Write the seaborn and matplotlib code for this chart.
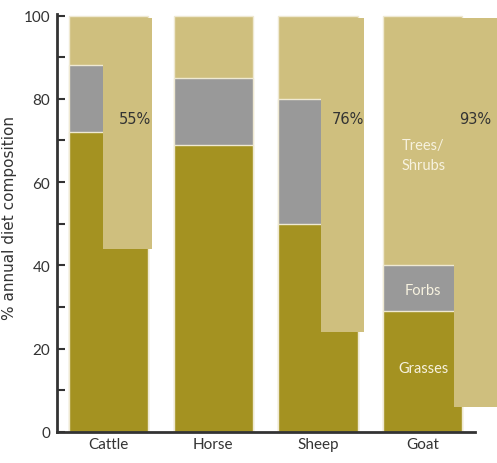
import numpy as np
import pandas as pd
import matplotlib
matplotlib.use("Agg")
import matplotlib.pyplot as plt
import seaborn as sns
from matplotlib.ticker import MultipleLocator

# ---- data ----
animals = ["Cattle", "Horse", "Sheep", "Goat"]
grasses = [72, 69, 50, 29]
forbs = [16, 16, 30, 11]
trees_shrubs = [12, 15, 20, 60]
overlay_bottom = [44, np.nan, 24, 6]
overlay_top = [99.3, np.nan, 99.3, 99.3]
overlay_labels = ["55%", "", "76%", "93%"]
segment_labels = ["Grasses", "Forbs", "Trees/\nShrubs"]

# ---- style ----
C_GRASS = "#A49221"
C_FORB = "#999999"
C_TREE = "#CFBF7E"
TXT = "#333333"

sns.set_style("ticks")
plt.rcParams["font.family"] = ["Lato", "DejaVu Sans"]

fig = plt.figure(figsize=(4.97, 4.64), dpi=100)
ax = fig.add_axes([0.115, 0.067, 0.841, 0.901])

df = pd.DataFrame({"animal": animals, "grasses": grasses,
                   "forbs": forbs, "trees": trees_shrubs})
df["c_forbs"] = df["grasses"] + df["forbs"]
df["c_trees"] = df["c_forbs"] + df["trees"]

BW = 0.755
edge = dict(edgecolor="#efe9d2", linewidth=1.0)
sns.barplot(data=df, x="animal", y="c_trees", color=C_TREE, width=BW,
            saturation=1, ax=ax, **edge)
sns.barplot(data=df, x="animal", y="c_forbs", color=C_FORB, width=BW,
            saturation=1, ax=ax, **edge)
sns.barplot(data=df, x="animal", y="grasses", color=C_GRASS, width=BW,
            saturation=1, ax=ax, **edge)

# overlay bars (offset to the right of each stack)
ov_left = [-0.053, 0, 0.033, 0.296]
ov_right = [0.416, 0, 0.435, 0.80]
lab_dx = [0.25, 0, 0.285, 0.50]
for i, (b, t, lab) in enumerate(zip(overlay_bottom, overlay_top, overlay_labels)):
    if np.isnan(b):
        continue
    l, r = i + ov_left[i], i + ov_right[i]
    ax.bar(l, t - b, width=r - l, bottom=b, align="edge", color=C_TREE,
           edgecolor="none", linewidth=0, clip_on=False, zorder=3)
    ax.text(i + lab_dx[i], 75.3, lab, ha="center", va="center",
            fontsize=10.5, color=TXT, zorder=4,
            family=["DejaVu Sans"])

# segment labels inside the Goat bar
gi = 3
seg_y = [grasses[gi] / 2 + 0.8, grasses[gi] + forbs[gi] / 2 - 0.5, 66.5]
for lab, yv in zip(segment_labels, seg_y):
    ax.text(gi + 0.005, yv, lab, ha="center", va="center", fontsize=10.5,
            color="#f7f2df", zorder=4, linespacing=1.6,
            family=["Lato", "DejaVu Sans"])

ax.set_xlim(-0.49, 3.5)
ax.set_ylim(0, 100.4)
ax.yaxis.set_major_locator(MultipleLocator(20))
ax.yaxis.set_minor_locator(MultipleLocator(10))
ax.tick_params(axis="y", which="both", direction="in", length=6, width=1.5,
               color=TXT, labelsize=11, labelcolor=TXT, pad=5)
ax.tick_params(axis="x", length=0, labelsize=11, labelcolor=TXT, pad=4)
ax.set_xlabel("")
ax.set_ylabel("% annual diet composition", fontsize=11, color=TXT,
              family=["DejaVu Sans"])
ax.yaxis.set_label_coords(-0.097, 0.515)
for s in ["top", "right"]:
    ax.spines[s].set_visible(False)
for s in ["left", "bottom"]:
    ax.spines[s].set_color(TXT)
    ax.spines[s].set_linewidth(2)

fig.savefig("out.png", dpi=100)
